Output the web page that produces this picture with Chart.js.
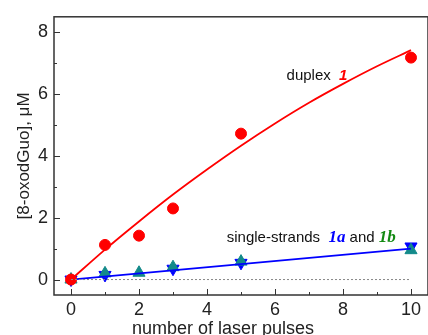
<!DOCTYPE html>
<html>
<head>
<meta charset="utf-8">
<script src="https://cdn.jsdelivr.net/npm/chart.js@4.4.1/dist/chart.umd.min.js"></script>
<style>
  html, body { margin: 0; padding: 0; background: #fff; overflow: hidden; }
  #wrap { position: absolute; left: 0; top: 0; width: 436px; height: 340px; }
</style>
</head>
<body>
<div id="wrap"><canvas id="chart"></canvas></div>
<script>
// measured points
const pulses = [0, 1, 2, 3, 5, 10];
const duplexVals = [0, 1.12, 1.42, 2.3, 4.72, 7.18];

const ss1aPulses = [0, 1, 3, 5, 10];
const ss1aVals = [0, 0.15, 0.35, 0.54, 1.07];

const ss1bPulses = [0, 1, 2, 3, 5, 10];
const ss1bVals = [0, 0.2, 0.22, 0.4, 0.58, 0.95];

// fitted curves
const fitX = [0, 1, 2, 3, 4, 5, 6, 7, 8, 9, 10];
const duplexFit = [0, 0.97, 1.88, 2.75, 3.56, 4.33, 5.05, 5.72, 6.33, 6.9, 7.42];
const ssFitX = [0, 10];
const ssFit = [0, 1.0];

const xTicks = [0, 2, 4, 6, 8, 10];
const xMinor = [1, 3, 5, 7, 9];
const yTicks = [0, 2, 4, 6, 8];
const yMinor = [1, 3, 5, 7];

const toPts = (xs, ys) => xs.map((x, i) => ({ x: x, y: ys[i] }));

const sans = '"Liberation Sans", Arial, sans-serif';
const serif = '"Liberation Serif", "Times New Roman", serif';

// frame with inward ticks, like the original plot
const framePlugin = {
    id: 'frame',
    afterDatasetsDraw(chart) {
        const { ctx, chartArea: a, scales: { x, y } } = chart;
        ctx.save();
        ctx.strokeStyle = '#333';
        ctx.lineWidth = 1.5;
        ctx.strokeRect(a.left, a.top, a.right - a.left, a.bottom - a.top);
        ctx.lineWidth = 1;
        ctx.beginPath();
        xTicks.forEach(v => { const px = Math.round(x.getPixelForValue(v)) + 0.5; ctx.moveTo(px, a.bottom); ctx.lineTo(px, a.bottom - 6); });
        xMinor.forEach(v => { const px = Math.round(x.getPixelForValue(v)) + 0.5; ctx.moveTo(px, a.bottom); ctx.lineTo(px, a.bottom - 3); });
        yTicks.forEach(v => { const py = Math.round(y.getPixelForValue(v)) + 0.5; ctx.moveTo(a.left, py); ctx.lineTo(a.left + 6, py); });
        yMinor.forEach(v => { const py = Math.round(y.getPixelForValue(v)) + 0.5; ctx.moveTo(a.left, py); ctx.lineTo(a.left + 3, py); });
        ctx.stroke();
        ctx.restore();
    }
};

// the two labels inside the plot
const labelPlugin = {
    id: 'labels',
    afterDatasetsDraw(chart) {
        const { ctx, scales: { x, y } } = chart;
        const drawRun = (startX, startY, parts) => {
            let px = x.getPixelForValue(startX);
            const py = y.getPixelForValue(startY);
            ctx.textBaseline = 'alphabetic';
            ctx.textAlign = 'left';
            parts.forEach(p => {
                ctx.font = p.font;
                ctx.fillStyle = p.color;
                ctx.fillText(p.text, px, py);
                px += ctx.measureText(p.text).width;
            });
        };
        ctx.save();
        drawRun(6.34, 6.46, [
            { text: 'duplex  ', font: '15px ' + sans, color: '#111' },
            { text: '1', font: 'italic bold 15px ' + sans, color: '#ff0000' }
        ]);
        drawRun(4.58, 1.22, [
            { text: 'single-strands  ', font: '15px ' + sans, color: '#111' },
            { text: '1a', font: 'italic bold 17px ' + serif, color: '#0000ff' },
            { text: ' and ', font: '15px ' + sans, color: '#111' },
            { text: '1b', font: 'italic bold 17px ' + serif, color: '#138a13' }
        ]);
        ctx.restore();
    }
};

new Chart(document.getElementById('chart'), {
    type: 'scatter',
    data: {
        datasets: [
            {
                label: 'zero',
                type: 'line',
                data: toPts(ssFitX, [0, 0]),
                borderColor: '#888',
                borderWidth: 1,
                borderDash: [2, 2],
                pointRadius: 0
            },
            {
                label: 'duplex fit',
                type: 'line',
                data: toPts(fitX, duplexFit),
                borderColor: '#ff0000',
                borderWidth: 1.8,
                cubicInterpolationMode: 'monotone',
                pointRadius: 0
            },
            {
                label: 'duplex 1',
                data: toPts(pulses, duplexVals),
                backgroundColor: '#ff0000',
                borderColor: '#ff0000',
                pointRadius: 5.5,
                pointStyle: 'circle'
            },
            {
                label: 'single-strand fit',
                type: 'line',
                data: toPts(ssFitX, ssFit),
                borderColor: '#0000ff',
                borderWidth: 1.8,
                pointRadius: 0
            },
            {
                label: '1b',
                data: toPts(ss1bPulses, ss1bVals),
                backgroundColor: '#138a8a',
                borderColor: '#138a8a',
                pointRadius: 7,
                pointStyle: 'triangle'
            },
            {
                label: '1a',
                data: toPts(ss1aPulses, ss1aVals),
                backgroundColor: '#0000ff',
                borderColor: '#0000ff',
                pointRadius: 7,
                pointStyle: 'triangle',
                rotation: 180
            }
        ]
    },
    options: {
        responsive: true,
        maintainAspectRatio: false,
        animation: false,
        layout: { padding: { left: 0, top: 14, right: 1, bottom: 0 } },
        plugins: {
            legend: { display: false },
            tooltip: { enabled: false }
        },
        scales: {
            x: {
                type: 'linear',
                min: -0.5,
                max: 10.5,
                afterBuildTicks: s => { s.ticks = xTicks.map(v => ({ value: v })); },
                afterFit: s => { s.height = 45; },
                grid: { display: false, drawTicks: false },
                border: { display: false },
                ticks: { font: { family: sans, size: 18 }, color: '#222', padding: 4, maxRotation: 0 },
                title: {
                    display: true,
                    text: 'number of laser pulses\u2003\u2003',
                    font: { family: sans, size: 18 },
                    color: '#222',
                    padding: { top: 0, bottom: 0 }
                }
            },
            y: {
                type: 'linear',
                min: -0.5,
                max: 8.5,
                afterBuildTicks: s => { s.ticks = yTicks.map(v => ({ value: v })); },
                afterFit: s => { s.width = 54; },
                grid: { display: false, drawTicks: false },
                border: { display: false },
                ticks: { font: { family: sans, size: 18 }, color: '#222', padding: 6 },
                title: {
                    display: true,
                    text: '[8-oxodGuo], μM',
                    font: { family: sans, size: 17 },
                    color: '#222',
                    padding: { top: 14, bottom: 0 }
                }
            }
        }
    },
    plugins: [framePlugin, labelPlugin]
});
</script>
</body>
</html>
